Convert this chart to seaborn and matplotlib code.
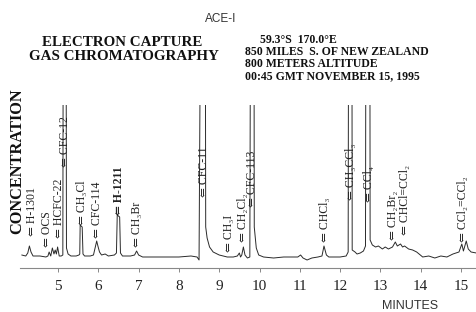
import matplotlib
matplotlib.use("Agg")
import matplotlib.pyplot as plt
import seaborn as sns
import pandas as pd

# Chromatogram trace (minutes, detector signal in arbitrary units)
minutes = [4.10, 4.20, 4.25, 4.29, 4.33, 4.38, 4.55, 4.70, 4.75, 4.78, 4.82, 4.86, 4.90,
           4.93, 4.96, 4.99, 5.03, 5.08, 5.12, 5.135, 5.195, 5.21, 5.25, 5.32, 5.45, 5.52,
           5.54, 5.55, 5.60, 5.62, 5.66, 5.80, 5.88, 5.92, 5.96, 5.99, 6.03, 6.08, 6.17,
           6.25, 6.40, 6.45, 6.47, 6.53, 6.55, 6.60, 6.80, 6.90, 6.95, 7.00, 7.10, 7.50,
           8.00, 8.30, 8.45, 8.50, 8.555, 8.65, 8.665, 8.70, 8.76, 8.85, 9.00, 9.20, 9.35,
           9.45, 9.50, 9.53, 9.56, 9.60, 9.64, 9.70, 9.76, 9.785, 9.86, 9.87, 9.92, 9.98,
           10.10, 10.35, 10.60, 10.95, 11.02, 11.08, 11.18, 11.30, 11.45, 11.55, 11.60,
           11.66, 11.72, 12.00, 12.15, 12.20, 12.215, 12.29, 12.30, 12.37, 12.42, 12.50,
           12.58, 12.63, 12.645, 12.735, 12.745, 12.80, 12.88, 12.95, 13.05, 13.12, 13.20,
           13.30, 13.37, 13.42, 13.50, 13.55, 13.60, 13.70, 13.80, 13.90, 14.05, 14.20,
           14.35, 14.50, 14.65, 14.80, 14.95, 15.02, 15.06, 15.13, 15.18, 15.25, 15.38]
signal = [13, 12, 15, 22, 16, 12, 12, 11, 12, 16, 12, 20, 14,
          18, 14, 21, 12, 12, 13, 400, 400, 20, 14, 12, 12, 13,
          14, 43, 41, 14, 12, 12, 13, 20, 27, 22, 16, 13, 14,
          12, 13, 15, 53, 51, 15, 12, 12, 13, 17, 13, 11, 11,
          11, 12, 11, 8, 400, 400, 41, 30, 21, 16, 13, 11, 11,
          12, 15, 11, 13, 21, 13, 10, 11, 400, 400, 41, 20, 13,
          11, 10, 11, 11, 13, 10, 8, 10, 11, 12, 22,
          13, 11, 11, 12, 16, 400, 400, 18, 16, 14, 15,
          17, 22, 400, 400, 28, 23, 21, 22, 19, 21, 19,
          21, 26, 22, 24, 21, 22, 19, 18, 16, 11, 12,
          10, 12, 11, 14, 16, 24, 17, 27, 19, 16, 15]

# Compound labels: name, retention position, height of the arrow tip
compounds = ["H-1301", "OCS", "HCFC-22", "CFC-12", "CH₃Cl", "CFC-114", "H-1211", "CH₃Br",
             "CFC-11", "CH₃I", "CH₂Cl₂", "CFC-113", "CHCl₃", "CH₃CCl₃", "CCl₄",
             "CH₂Br₂", "CHCl=CCl₂", "CCl₂=CCl₂"]
label_min = [4.36, 4.73, 5.02, 5.17, 5.60, 5.97, 6.51, 6.96,
             8.62, 9.24, 9.59, 9.81, 11.63, 12.27, 12.72,
             13.32, 13.60, 15.05]
label_sig = [32, 21, 30, 101, 43, 30, 53, 21,
             71, 16, 26, 61, 26, 68, 66,
             28, 33, 26]

df = pd.DataFrame({"minutes": minutes, "signal": signal})

sns.set_theme(style="white")
plt.rcParams["font.family"] = ["Liberation Serif", "DejaVu Serif"]

W, H = 477, 312
fig = plt.figure(figsize=(W / 100, H / 100), dpi=100)
ax = fig.add_axes([20 / W, (H - 268) / H, 457 / W, 163 / H])

sns.lineplot(data=df, x="minutes", y="signal", ax=ax, color="#2a2a2a",
             linewidth=0.7, sort=False)

ax.set_xlim(4.057, 15.397)
ax.set_ylim(0, 163)
ax.set_xticks(range(5, 16))
ax.set_yticks([])
ax.set_xlabel("")
ax.set_ylabel("")
for s in ["left", "top", "right"]:
    ax.spines[s].set_visible(False)
ax.spines["bottom"].set_color("#888888")
ax.spines["bottom"].set_linewidth(0.8)
ax.tick_params(axis="x", bottom=True, length=3, width=0.7, color="#888888",
               labelsize=11, labelcolor="#222222", pad=6)

for name, t, y in zip(compounds, label_min, label_sig):
    ax.text(t, y, "⇐ " + name, rotation=90, ha="center", va="bottom",
            fontsize=8.5, color="#222222",
            fontweight="bold" if name == "H-1211" else "normal")

def px(x, y):
    return x / W, 1 - y / H

fig.text(*px(221, 19), "ACE-I", ha="center", va="center", fontsize=8.5,
         family=["Liberation Sans", "DejaVu Sans"], color="#333333")
fig.text(*px(122, 42), "ELECTRON CAPTURE", ha="center", va="center",
         fontsize=10.8, fontweight="bold", color="#111111")
fig.text(*px(124, 57), "GAS CHROMATOGRAPHY", ha="center", va="center",
         fontsize=10.8, fontweight="bold", color="#111111")
info = ["     59.3°S  170.0°E", "850 MILES  S. OF NEW ZEALAND",
        "800 METERS ALTITUDE", "00:45 GMT NOVEMBER 15, 1995"]
for i, line in enumerate(info):
    fig.text(*px(245, 40 + 12 * i), line, ha="left", va="center",
             fontsize=8.5, fontweight="bold", color="#111111")
fig.text(*px(17, 161), "CONCENTRATION", rotation=90, ha="center", va="center",
         fontsize=11.8, fontweight="bold", color="#111111")
fig.text(*px(410, 306), "MINUTES", ha="center", va="center", fontsize=9,
         family=["Liberation Sans", "DejaVu Sans"], color="#333333")

fig.savefig("out.png", dpi=100)
